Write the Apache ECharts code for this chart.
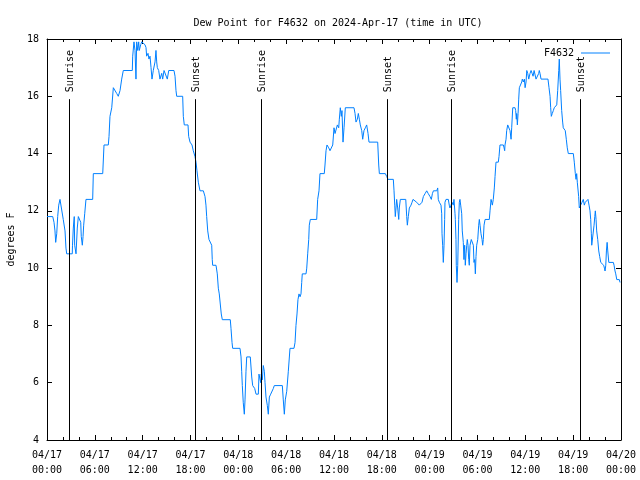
<!DOCTYPE html>
<html><head><meta charset="utf-8">
<script src="https://cdn.jsdelivr.net/npm/echarts@6/dist/echarts.min.js"></script>
<style>html,body{margin:0;padding:0;background:#fff}#c{width:640px;height:480px}</style>
</head><body><div id="c"></div>
<script>
// hours since 2024-04-17 00:00 UTC
var hours = [0.00,0.72,0.88,1.00,1.09,1.22,1.34,1.47,1.63,1.88,2.04,2.26,2.38,2.47,3.17,3.20,3.30,3.42,3.47,3.55,3.64,3.80,3.93,4.14,4.23,4.30,4.43,4.52,4.60,4.73,4.89,5.73,5.81,6.99,7.15,7.69,7.78,7.90,8.12,8.32,8.53,8.74,8.94,9.16,9.37,9.57,9.78,10.70,10.75,10.91,11.04,11.16,11.25,11.38,11.50,11.58,11.75,11.88,12.08,12.29,12.42,12.50,12.67,12.79,12.92,13.05,13.17,13.33,13.55,13.67,13.76,13.84,14.01,14.17,14.39,14.51,14.68,14.93,15.09,15.27,15.43,15.93,16.06,16.18,16.27,17.02,17.10,17.22,17.69,17.77,17.94,18.19,18.35,18.56,18.69,18.81,18.98,19.19,19.61,19.82,19.94,20.03,20.16,20.32,20.57,20.66,20.73,20.78,21.20,21.36,21.49,21.61,21.74,21.86,21.99,22.99,23.08,23.21,23.29,24.21,24.34,24.42,24.50,24.62,24.75,24.84,24.96,25.05,25.50,25.68,25.80,26.05,26.22,26.51,26.59,26.72,26.81,26.88,27.01,27.13,27.26,27.35,27.47,27.64,27.76,27.89,28.06,28.19,28.39,28.51,29.52,29.64,29.77,29.89,30.07,30.27,30.48,30.98,31.11,31.23,31.36,31.48,31.61,31.74,31.86,31.95,32.02,32.49,32.58,32.70,32.83,32.90,33.03,33.83,33.95,34.12,34.24,34.78,34.87,35.00,35.12,35.34,35.50,35.71,35.84,36.00,36.13,36.25,36.42,36.59,36.67,36.79,36.92,37.00,37.13,37.26,37.42,38.51,38.64,38.76,38.93,39.05,39.18,39.30,39.48,39.60,39.76,39.93,40.10,40.27,40.39,41.48,41.61,41.69,42.44,42.61,42.77,43.44,43.53,43.62,43.69,43.78,43.86,43.99,44.12,44.19,44.32,44.45,45.00,45.12,45.20,45.32,45.45,45.66,45.79,45.91,46.16,46.37,46.58,46.70,46.92,47.04,47.21,47.42,47.63,47.83,48.04,48.21,48.34,48.47,48.68,48.89,49.01,49.08,49.21,49.30,49.42,49.51,49.55,49.63,49.71,49.80,49.88,49.92,50.05,50.34,50.46,50.55,50.68,50.80,50.96,51.05,51.18,51.22,51.30,51.34,51.43,51.52,51.64,51.72,51.80,51.89,52.02,52.09,52.22,52.30,52.39,52.47,52.56,52.65,52.72,52.81,52.90,52.97,53.06,53.22,53.40,53.48,53.56,53.65,53.73,53.81,53.90,54.03,54.15,54.23,54.32,54.44,54.57,54.65,54.73,54.82,54.95,55.48,55.57,55.70,55.78,55.86,55.98,56.11,56.20,56.32,56.61,56.70,56.82,57.24,57.33,57.41,57.45,57.58,57.66,57.79,57.95,58.08,58.21,58.29,58.42,58.71,58.79,58.87,58.92,59.00,59.09,59.17,59.25,59.42,59.55,59.62,59.75,59.88,59.97,60.09,60.18,60.30,60.43,60.59,60.72,60.85,60.97,61.10,61.22,61.34,61.59,61.68,61.75,61.84,61.97,62.84,62.97,63.10,63.18,63.26,63.38,63.51,63.63,63.76,63.94,64.06,64.19,64.26,64.35,64.43,64.56,64.68,64.76,64.94,65.01,65.14,65.26,65.39,66.02,66.14,66.27,66.36,66.44,66.52,66.69,66.77,66.94,67.11,67.27,67.40,67.52,67.70,67.86,67.99,68.11,68.20,68.28,68.33,68.53,68.62,68.71,68.78,68.87,68.95,69.08,69.21,69.33,69.46,69.58,69.71,69.83,69.92,70.00,70.09,70.17,70.26,70.34,70.47,71.04,71.13,71.25,71.34,71.47,71.79,71.88];
var dewF = [11.8,11.8,11.6,11.3,10.9,11.2,11.8,12.2,12.4,12.4,11.7,11.3,10.7,10.5,10.5,10.8,11.4,11.8,10.8,10.8,10.5,11.4,11.8,11.8,11.6,11.1,10.8,11.1,11.5,11.9,12.4,12.4,13.3,13.3,14.3,14.3,14.6,15.3,15.6,16.3,16.3,16.1,16.0,16.2,16.6,16.9,16.9,16.9,17.4,17.9,17.6,16.6,17.9,17.6,17.9,17.6,17.8,17.9,17.9,17.8,17.7,17.4,17.5,17.3,17.4,17.0,16.6,16.9,17.2,17.6,17.2,17.0,16.9,16.6,16.8,16.6,16.9,16.9,16.6,16.9,16.9,16.9,16.7,16.2,16.0,16.0,15.3,15.0,15.0,14.6,14.4,14.3,14.1,13.9,13.7,13.4,13.0,12.7,12.7,12.5,12.2,11.8,11.3,11.0,11.0,10.8,10.3,10.1,10.1,9.8,9.3,9.1,9.1,8.4,8.2,8.2,7.9,7.4,7.2,7.2,6.9,6.4,5.9,5.3,4.9,5.4,6.4,6.9,6.9,6.2,5.9,5.8,5.6,5.6,6.3,6.3,6.0,6.3,6.1,6.6,6.4,6.0,5.5,5.2,4.9,5.5,5.6,5.6,5.8,5.9,5.9,5.4,4.9,5.4,5.7,6.4,7.2,7.2,7.4,8.0,8.4,8.9,9.1,9.0,9.1,9.5,9.8,9.8,10.0,10.5,11.0,11.5,11.7,11.7,12.4,12.7,13.3,13.3,13.6,14.1,14.3,14.2,14.1,14.1,14.3,14.9,14.7,14.7,15.0,14.9,15.2,15.6,15.3,15.5,14.4,14.9,15.6,15.6,15.4,15.1,15.2,15.4,15.2,15.0,14.8,14.5,14.8,14.9,15.0,14.7,14.4,14.4,13.6,13.3,13.3,13.2,13.1,13.1,12.7,12.2,11.8,12.1,12.4,12.1,11.7,12.1,12.4,12.4,12.4,11.8,11.5,11.8,12.1,12.2,12.3,12.4,12.4,12.3,12.3,12.2,12.2,12.3,12.5,12.6,12.7,12.6,12.5,12.4,12.6,12.7,12.7,12.7,12.8,12.4,12.3,12.3,12.2,11.9,11.2,10.8,10.2,10.8,11.7,12.3,12.4,12.4,12.2,12.1,12.2,12.3,12.2,12.4,11.9,11.7,11.0,10.1,9.5,10.1,11.7,12.3,12.4,12.2,11.9,11.3,10.9,10.3,10.8,10.1,10.5,10.8,11.0,10.8,10.3,10.1,10.8,11.0,11.0,10.8,10.2,10.3,9.8,10.4,10.8,11.0,11.5,11.7,11.5,11.2,11.0,10.8,11.0,11.5,11.7,11.7,12.0,12.4,12.3,12.2,12.4,12.8,13.2,13.7,13.7,13.9,14.3,14.3,14.2,14.1,14.3,14.5,14.8,15.0,15.0,14.8,14.5,14.9,15.6,15.6,15.5,15.2,15.4,15.0,15.4,15.9,16.3,16.3,16.5,16.6,16.5,16.6,16.3,16.5,16.9,16.8,16.6,16.8,16.9,16.8,16.7,16.9,16.9,16.6,16.6,16.8,16.9,16.8,16.6,16.6,16.3,16.0,15.6,15.3,15.4,15.5,15.6,15.6,15.7,16.2,16.9,17.3,16.6,16.2,15.5,15.1,14.9,14.9,14.8,14.5,14.2,14.0,14.0,13.7,13.3,13.1,13.3,13.0,12.5,12.1,12.2,12.3,12.4,12.2,12.3,12.3,12.4,12.2,12.0,11.7,11.2,10.8,10.8,11.5,11.8,12.0,11.7,11.3,11.0,10.6,10.4,10.2,10.2,10.2,10.1,10.0,9.9,10.1,10.6,10.9,10.6,10.2,10.2,10.1,9.9,9.8,9.6,9.6,9.5];
var sunHours = [2.80, 18.60, 26.81, 42.69, 50.72, 66.90];
var sunLabels = ['Sunrise', 'Sunset', 'Sunrise', 'Sunset', 'Sunrise', 'Sunset'];
var yTicks = [4, 6, 8, 10, 12, 14, 16, 18];
var seriesName = 'F4632';
var titleText = 'Dew Point for F4632 on 2024-Apr-17 (time in UTC)';
var yName = 'degrees F';

var FONT = '"DejaVu Sans Mono", "Liberation Mono", monospace';
var lineData = hours.map(function (h, i) { return [h, dewF[i]]; });
function pad(n) { return (n < 10 ? '0' : '') + n; }
function xLabel(v) {
  var day = 17 + Math.floor(v / 24);
  var hr = Math.round(v % 24);
  return '04/' + pad(day) + '\n' + pad(hr) + ':00';
}
var axCommon = {
  type: 'value', min: 0, max: 72, interval: 6,
  axisLine: { show: true, onZero: false, lineStyle: { color: '#000', width: 1 } },
  axisTick: { show: true, inside: true, length: 5, lineStyle: { color: '#000' } },
  minorTick: { show: true, splitNumber: 3, length: 3, lineStyle: { color: '#000' } },
  splitLine: { show: false }, minorSplitLine: { show: false }
};
var yCommon = {
  type: 'value', min: yTicks[0], max: yTicks[yTicks.length - 1], interval: 2,
  axisLine: { show: true, onZero: false, lineStyle: { color: '#000', width: 1 } },
  axisTick: { show: true, inside: true, length: 5, lineStyle: { color: '#000' } },
  splitLine: { show: false }
};
var chart = echarts.init(document.getElementById('c'), null, { renderer: 'canvas' });
chart.setOption({
  animation: false,
  backgroundColor: '#fff',
  title: {
    text: titleText, left: 333, top: 13, textAlign: 'center',
    textStyle: { fontFamily: FONT, fontSize: 10, fontWeight: 'normal', color: '#000' }
  },
  legend: {
    data: [seriesName], right: 25, top: 43, align: 'right', icon: 'rect',
    itemWidth: 29, itemHeight: 1,
    textStyle: { fontFamily: FONT, fontSize: 10, color: '#000', padding: [0, 2, 0, 0] }
  },
  grid: { left: 47, right: 19, top: 39, bottom: 40, containLabel: false, outerBoundsMode: 'none' },
  xAxis: [
    Object.assign({}, axCommon, {
      position: 'bottom',
      axisLabel: { formatter: xLabel, fontFamily: FONT, fontSize: 10, color: '#000', lineHeight: 15, margin: 8 }
    }),
    Object.assign({}, axCommon, { position: 'top', axisLabel: { show: false } })
  ],
  yAxis: [
    Object.assign({}, yCommon, {
      position: 'left', name: yName, nameLocation: 'middle', nameGap: 31, nameRotate: 90,
      nameTextStyle: { fontFamily: FONT, fontSize: 10, color: '#000' },
      axisLabel: { fontFamily: FONT, fontSize: 10, color: '#000', margin: 8 }
    }),
    Object.assign({}, yCommon, { position: 'right', axisLabel: { show: false } })
  ],
  series: [
    {
      name: seriesName, type: 'line', data: lineData, showSymbol: false, symbol: 'none',
      lineStyle: { color: '#0080ff', width: 1 }, itemStyle: { color: '#0080ff' },
      xAxisIndex: 0, yAxisIndex: 0, z: 2
    },
    {
      name: 'sun', type: 'custom', xAxisIndex: 0, yAxisIndex: 0, z: 3,
      data: sunHours.map(function (h) { return [h]; }),
      renderItem: function (params, api) {
        var t = api.value(0);
        var p0 = api.coord([t, 4]);
        var p1 = api.coord([t, 15.9]);
        var x = Math.round(p0[0]) + 0.5;
        return {
          type: 'group', children: [
            { type: 'line', shape: { x1: x, y1: p0[1], x2: x, y2: p1[1] }, style: { stroke: '#000', lineWidth: 1 } },
            { type: 'text', x: x + 1, y: p1[1] - 7, rotation: Math.PI / 2,
              style: { text: sunLabels[params.dataIndex], font: '10px ' + FONT, fill: '#000', align: 'left', verticalAlign: 'middle' } }
          ]
        };
      }
    }
  ]
});
</script>
</body></html>
